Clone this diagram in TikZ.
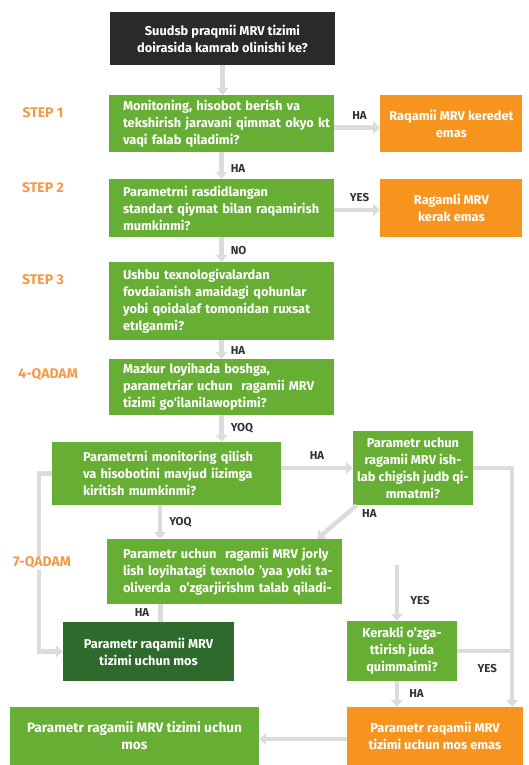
\documentclass[tikz,border=0pt]{standalone}
\usepackage{fontspec}
\setmainfont{Fira Sans}
\usepackage{xcolor}
\definecolor{mrvgreen}{HTML}{66AE34}
\definecolor{mrvdark}{HTML}{2D6A2B}
\definecolor{mrvorange}{HTML}{F7941E}
\definecolor{mrvblack}{HTML}{2A2A2A}
\definecolor{flowgray}{HTML}{DCDCDC}
\definecolor{steporange}{HTML}{F29A45}
\definecolor{lblgray}{HTML}{333333}
\usetikzlibrary{positioning,arrows.meta}

\begin{document}
\begin{tikzpicture}[x=1pt, y=-1pt,
		box/.style={rectangle, inner sep=0pt, fill=mrvgreen, text=white,
					font=\fontsize{12.8}{17}\selectfont\bfseries, align=center},
		qbox/.style={box, align=left, text width=225pt, minimum width=225pt,
					execute at begin node={\leftskip=14pt\relax}},
		endbox/.style={box, fill=mrvorange},
		steplbl/.style={text=steporange, fill=white, inner sep=1pt, font=\fontsize{14}{16}\selectfont\bfseries},
		lbl/.style={text=lblgray, inner sep=1pt, font=\fontsize{11.5}{13}\selectfont\bfseries},
		flow/.style={draw=flowgray, line width=4.5pt, -{Triangle[width=12pt,length=7pt]}},
		pipe/.style={draw=flowgray, line width=4.5pt}]
	\useasboundingbox (0,0) rectangle (528,765);
	% main column
	\node (top) [box, fill=mrvblack, minimum width=225pt, minimum height=53pt] at (222.5,38.5)
		{Suudsb praqmii MRV tizimi\\doirasida kamrab olinishi ke?};
	\node (s1) [qbox, minimum height=57pt] at (221.5,123.5)
		{Monitoning, hisobot berish va\\tekshirish jaravani qimmat okyo kt\\vaqi falab qiladimi?};
	\node (o1) [endbox, minimum width=142pt, minimum height=57pt, right=46pt of s1]
		{Raqamii MRV keredet\\emas};
	\node (s2) [qbox, minimum height=58pt] at (221.5,208)
		{Parametrni rasdidlangan\\standart qiymat bilan raqamirish\\mumkinmi?};
	\node (o2) [endbox, minimum width=142pt, minimum height=58pt, right=46pt of s2]
		{Ragamli MRV\\kerak emas};
	\node (s3) [qbox, minimum height=78pt] at (221.5,301)
		{Ushbu texnologivalardan\\fovdaianish amaidagi qohunlar\\yobi qoidalaf tomonidan ruxsat\\etılganmi?};
	\node (s4) [qbox, minimum height=56pt] at (221.5,387)
		{Mazkur loyihada boshga,\\parametriar uchun\ \ ragamii MRV\\tizimi go‘ilanilawoptimi?};
	\node (m) [qbox, text width=229pt, minimum width=229pt, minimum height=63pt,
			execute at begin node={\leftskip=31pt\relax}] at (166.5,473.5)
		{Parametrni monitoring qilish\\va hisobotini mavjud iizimga\\kiritish mumkinmi?};
	\node (r) [box, minimum width=120pt, minimum height=74pt] at (413,468)
		{Parametr uchun\\ragamii MRV ish-\\lab chigish judb qi-\\mmatmi?};
	\node (q7) [qbox, text width=235pt, minimum width=235pt, minimum height=65pt,
			execute at begin node={\leftskip=16pt\relax}] at (224.5,571.5)
		{Parametr uchun\ \ ragamii MRV jorly\\lish loyihatagi texnolo ’yaa yoki ta-\\oliverda\ \ o’zgarjirishm talab qiladi-};
	\node (dk) [box, fill=mrvdark, minimum width=171pt, minimum height=59pt] at (148.5,651.5)
		{Parametr raqamii MRV\\tizimi uchun mos};
	\node (k) [box, minimum width=110pt, minimum height=60pt] at (402,651)
		{Kerakli o’zga-\\ttirish juda\\quimmaimi?};
	\node (ob) [endbox, minimum width=176pt, minimum height=58pt] at (435,736)
		{Parametr raqamii MRV\\tizimi uchun mos emas};
	\node (gb) [box, minimum width=249pt, minimum height=58pt, font=\fontsize{13.6}{17}\selectfont\bfseries] at (134.5,736)
		{Parametr ragamii MRV tizimi uchun\\mos};
	\coordinate (rr) at ([xshift=-11pt]ob.north east);
	\coordinate (kin) at ([xshift=-5pt,yshift=56pt]k.north);
	% connectors
	\draw[flow] (top.south) -- (top.south |- s1.north);
	\draw[flow] (s1.south) -- node[lbl, right=6pt, pos=0.6] {HA} (s1.south |- s2.north);
	\draw[flow] ([yshift=-4pt]s1.east) -- node[lbl, above=5pt, pos=0.55] {HA} ([yshift=-4pt]o1.west);
	\draw[flow] (s2.south) -- node[lbl, right=6pt, pos=0.55] {NO} (s2.south |- s3.north);
	\draw[flow] ([yshift=-2pt]s2.east) -- node[lbl, above=5pt, pos=0.55] {YES} ([yshift=-2pt]o2.west);
	\draw[flow] (s3.south) -- node[lbl, right=6pt, pos=0.55] {HA} (s3.south |- s4.north);
	\draw[flow] (s4.south) -- node[lbl, right=6pt, pos=0.5] {YOQ} (s4.south |- m.north);
	\draw[flow] (m.east |- r.west) -- node[lbl, above=5pt] {HA} (r.west);
	\draw[flow] ([xshift=4pt]r.south west) -- node[lbl, right=12pt, pos=0.25] {HA} ([xshift=-25pt]q7.north east);
	\draw[flow] ([xshift=-6.5pt]m.south) -- node[lbl, right=6pt] {YOQ} ([xshift=-6.5pt]m.south |- q7.north);
	\draw[pipe] ([xshift=12pt]dk.north |- q7.south) -- node[lbl, left=8pt] {HA} ([xshift=12pt]dk.north);
	\draw[flow] (m.west) -- ++(-13,0) |- (dk.west);
	\draw[flow] (r.east) -| node[lbl, left=12pt, pos=0.92] {YES} (rr);
	\draw[pipe] (k.east) -- (k.east -| rr);
	\draw[flow] (kin) -- node[lbl, right=10pt, pos=0.64] {YES} ([xshift=-5pt]k.north);
	\draw[flow] ([xshift=-5pt]k.south) -- node[lbl, right=9pt] {HA} ([xshift=-5pt]k.south |- ob.north);
	\draw[flow] ([yshift=-3pt]ob.west) -- ([yshift=-3pt]gb.east);
	% step names
	\node (st1) [steplbl] at (43,113) {STEP 1};
	\node (st2) [steplbl] at (43,188) {STEP 2};
	\node (st3) [steplbl] at (43,280) {STEP 3};
	\node (st4) [steplbl] at (48,375) {4-QADAM};
	\node (st7) [steplbl] at (42,563) {7-QADAM};
\end{tikzpicture}
\end{document}
